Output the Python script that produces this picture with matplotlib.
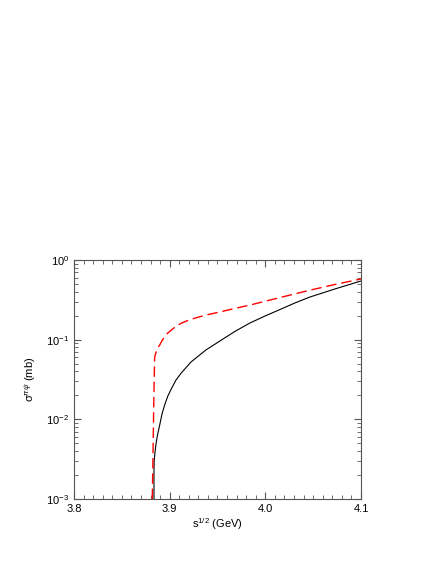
import numpy as np
import matplotlib
matplotlib.use('Agg')
import matplotlib.pyplot as plt
from matplotlib.ticker import FixedLocator, LogLocator, NullFormatter

plt.rcParams['font.family'] = ['Liberation Sans', 'DejaVu Sans']
plt.rcParams['mathtext.fontset'] = 'custom'
plt.rcParams['mathtext.rm'] = 'Liberation Sans'
plt.rcParams['mathtext.it'] = 'Liberation Sans:italic'

# black solid curve
sqrt_s_solid = [3.8836, 3.8836, 3.8838, 3.8846, 3.8860, 3.8876, 3.8896, 3.8920,
                3.8948, 3.8980, 3.9017, 3.9065, 3.9121, 3.9223, 3.9379, 3.9526,
                3.9682, 3.9839, 3.9996, 4.0153, 4.0309, 4.0466, 4.0727, 4.1000]
sigma_solid = [0.001, 0.0022, 0.0030, 0.0038, 0.0052, 0.0066, 0.0085, 0.0117,
               0.0152, 0.0195, 0.0241, 0.0310, 0.0382, 0.0525, 0.0743, 0.0964,
               0.127, 0.162, 0.198, 0.239, 0.289, 0.343, 0.433, 0.545]

# red dashed curve
sqrt_s_dash = [3.8818, 3.8824, 3.8830, 3.8836, 3.8840, 3.8843, 3.8850, 3.8860,
               3.8876, 3.8896, 3.8920, 3.8948, 3.8980, 3.9017, 3.9065, 3.9121,
               3.9190, 3.9261, 3.9382, 3.9526, 3.9682, 3.9839, 3.9996, 4.0153,
               4.0466, 4.0727, 4.1000]
sigma_dash = [0.001, 0.0025, 0.008, 0.022, 0.040, 0.0589, 0.0650, 0.0707,
              0.0790, 0.0858, 0.0970, 0.109, 0.121, 0.132, 0.147, 0.161,
              0.174, 0.186, 0.204, 0.223, 0.247, 0.272, 0.303, 0.338,
              0.418, 0.493, 0.578]

fig = plt.figure(figsize=(4.36, 5.64), dpi=100)
ax = fig.add_axes([0.1697, 0.1152, 0.6583, 0.4238])

ax.plot(sqrt_s_solid, sigma_solid, color='black', lw=0.8)
ax.plot(sqrt_s_dash, sigma_dash, color='red', lw=1.0, dashes=(7.5, 3.5))

ax.set_yscale('log')
ax.set_xlim(3.8, 4.1)
ax.set_ylim(1e-3, 1)

ax.xaxis.set_major_locator(FixedLocator([3.8, 3.9, 4.0, 4.1]))
ax.xaxis.set_minor_locator(FixedLocator(np.arange(3.8, 4.1001, 0.01)))
ax.set_xticklabels(['3.8', '3.9', '4.0', '4.1'])
ax.yaxis.set_major_locator(FixedLocator([1e-3, 1e-2, 1e-1, 1]))
ax.yaxis.set_minor_locator(LogLocator(base=10, subs=np.arange(2, 10)))
ax.yaxis.set_minor_formatter(NullFormatter())
ax.set_yticklabels(['10$^{-3}$', '10$^{-2}$', '10$^{-1}$', '10$^{0}$'])

ax.tick_params(which='both', direction='in', top=True, right=True,
               labelsize=8, color='#555555')
ax.tick_params(which='major', length=5, width=0.8)
ax.tick_params(which='minor', length=3, width=0.6)
for sp in ax.spines.values():
    sp.set_color('#555555')
    sp.set_linewidth(0.8)

ax.set_xlabel('s$^{1/2}$ (GeV)', fontsize=8, labelpad=2)
ax.set_ylabel('σ$^{πψ}$ (mb)', fontsize=8, labelpad=6)

fig.savefig('out.png', dpi=100)
